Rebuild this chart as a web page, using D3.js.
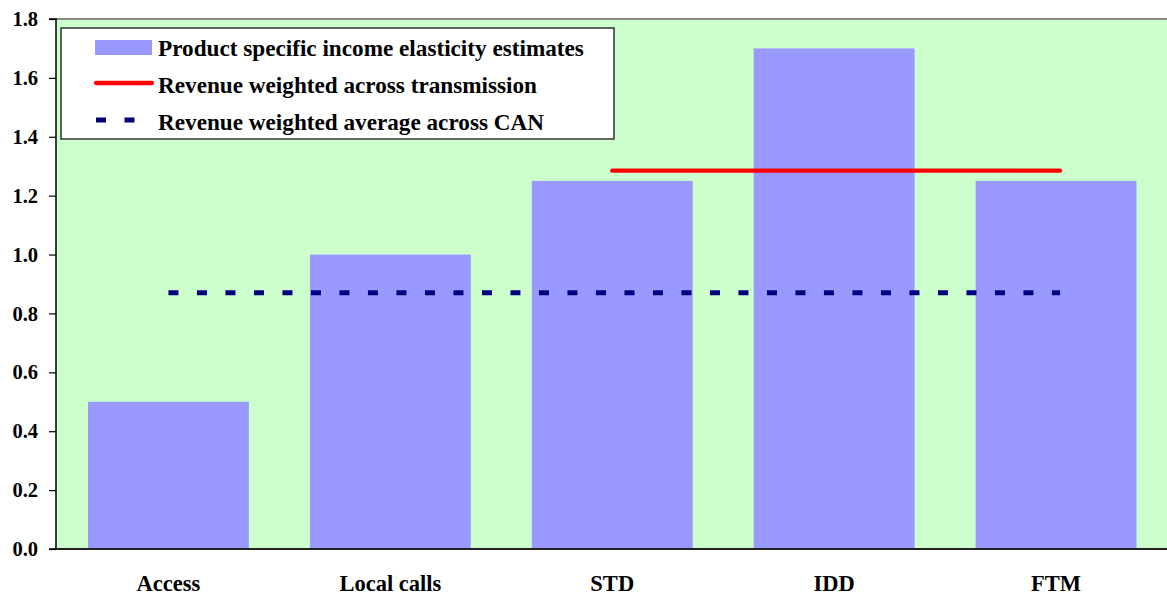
<!DOCTYPE html>
<html>
<head>
<meta charset="utf-8">
<script src="https://cdn.jsdelivr.net/npm/d3@7"></script>
<style>
  html, body { margin: 0; padding: 0; background: #fff; }
  svg { display: block; }
  text { font-family: "Liberation Serif", "Times New Roman", serif; font-weight: bold; fill: #000; }
</style>
</head>
<body>
<svg id="chart" width="1167" height="599"></svg>
<script>
const categories = ["Access", "Local calls", "STD", "IDD", "FTM"];
const elasticity = [0.5, 1.0, 1.25, 1.7, 1.25];
const transmissionAvg = 1.285;
const transmissionSpan = ["STD", "FTM"];
const canAvg = 0.87;
const canSpan = ["Access", "FTM"];
const yTicks = [0, 0.2, 0.4, 0.6, 0.8, 1.0, 1.2, 1.4, 1.6, 1.8];
const legendLabels = [
  "Product specific income elasticity estimates",
  "Revenue weighted across transmission",
  "Revenue weighted average across CAN"
];

const svg = d3.select("#chart");
const pLeft = 56, pRight = 1167, pTop = 19, pBottom = 549;

const x = d3.scaleBand().domain(categories).range([pLeft + 1.5, pRight]).paddingInner(0.275).paddingOuter(0.1375);
const y = d3.scaleLinear().domain([0, 1.8]).range([pBottom, pTop]);

// plot background
svg.append("rect").attr("x", pLeft).attr("y", pTop).attr("width", pRight - pLeft).attr("height", pBottom - pTop)
  .attr("fill", "#CCFFCC");
svg.append("line").attr("x1", pLeft).attr("x2", pRight).attr("y1", pTop).attr("y2", pTop)
  .attr("stroke", "#888").attr("stroke-width", 2);

// bars
svg.selectAll("rect.bar").data(categories).enter().append("rect").attr("class", "bar")
  .attr("x", d => x(d)).attr("width", x.bandwidth())
  .attr("y", (d, i) => y(elasticity[i])).attr("height", (d, i) => y(0) - y(elasticity[i]))
  .attr("fill", "#9999FF");

const cx = d => x(d) + x.bandwidth() / 2;

// CAN average dashed
svg.append("line")
  .attr("x1", cx(canSpan[0])).attr("x2", cx(canSpan[1]) + 4)
  .attr("y1", y(canAvg)).attr("y2", y(canAvg))
  .attr("stroke", "#000080").attr("stroke-width", 5).attr("stroke-dasharray", "10,18.5");

// transmission average
svg.append("line")
  .attr("x1", cx(transmissionSpan[0])).attr("x2", cx(transmissionSpan[1]) + 4)
  .attr("y1", y(transmissionAvg)).attr("y2", y(transmissionAvg))
  .attr("stroke", "#FF0000").attr("stroke-width", 4.3).attr("stroke-linecap", "round");

// y axis
const yAxis = d3.axisLeft(y).tickValues(yTicks).tickFormat(d3.format(".1f")).tickSize(7).tickPadding(11);
const yg = svg.append("g").attr("transform", `translate(${pLeft},0)`).call(yAxis);
yg.select(".domain").attr("stroke", "#000").attr("stroke-width", 1.5).attr("d", `M-7,${pTop}H0V${pBottom}H-7`);
yg.selectAll(".tick line").attr("stroke", "#000").attr("stroke-width", 1.2);
yg.selectAll("text").attr("font-size", 20.5).attr("font-family", "Liberation Serif").attr("font-weight", "bold").attr("fill", "#000");

// x axis
const xAxis = d3.axisBottom(x).tickSize(0).tickPadding(26);
const xg = svg.append("g").attr("transform", `translate(0,${pBottom})`).call(xAxis);
xg.select(".domain").attr("stroke", "#222").attr("stroke-width", 2).attr("d", `M${pLeft},0H${pRight}`);
xg.selectAll("text").attr("font-size", 22.5).attr("font-family", "Liberation Serif").attr("font-weight", "bold").attr("fill", "#000");

// legend
const lg = svg.append("g");
lg.append("rect").attr("x", 61).attr("y", 28).attr("width", 553).attr("height", 111)
  .attr("fill", "#fff").attr("stroke", "#333").attr("stroke-width", 1.5);
const rowY = [48, 85, 122];
lg.append("rect").attr("x", 95).attr("y", rowY[0] - 8).attr("width", 57).attr("height", 15).attr("fill", "#9999FF");
lg.append("line").attr("x1", 96).attr("x2", 152).attr("y1", rowY[1] - 2).attr("y2", rowY[1] - 2)
  .attr("stroke", "#FF0000").attr("stroke-width", 4.3).attr("stroke-linecap", "round");
lg.append("line").attr("x1", 96).attr("x2", 152).attr("y1", rowY[2] - 2).attr("y2", rowY[2] - 2)
  .attr("stroke", "#000080").attr("stroke-width", 5).attr("stroke-dasharray", "10,18.5");
lg.selectAll("text.leg").data(legendLabels).enter().append("text").attr("class", "leg")
  .attr("x", 158).attr("y", (d, i) => rowY[i]).attr("dy", "0.35em")
  .attr("font-size", 23.2).text(d => d);
</script>
</body>
</html>
